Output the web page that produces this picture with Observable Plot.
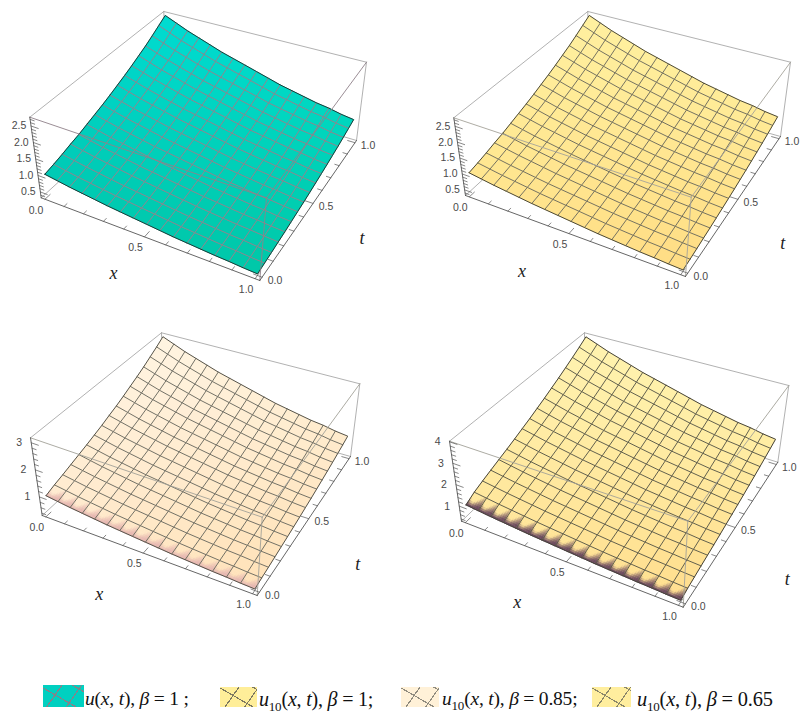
<!DOCTYPE html>
<html><head><meta charset="utf-8">
<script src="https://cdn.jsdelivr.net/npm/d3@7"></script>
<script src="https://cdn.jsdelivr.net/npm/@observablehq/plot@0.6"></script>
<style>
html,body{margin:0;padding:0;background:#fff}
#wrap{position:relative;width:811px;height:721px;overflow:hidden}
.sw{position:absolute;border:0;box-sizing:border-box}
.lg{position:absolute;top:688px;font:19.5px "Liberation Serif",serif;color:#111;white-space:nowrap;letter-spacing:-.2px}
.lg sub{font-size:13px;line-height:0}
</style></head><body><div id="wrap"></div>
<script>
// Surface values: u(x,t) at the 17 mesh positions = profileX[i] * profileT_*[j]
const profileX = [1,.94,.88,.83,.78,.73,.69,.65,.61,.57,.53,.50,.47,.44,.42,.39,.37];
const profileT_100 = [1,1.06,1.13,1.21,1.28,1.37,1.46,1.55,1.65,1.76,1.87,1.99,2.12,2.25,2.40,2.56,2.72];
const profileT_085 = [1,1.11,1.20,1.30,1.40,1.50,1.61,1.72,1.85,1.97,2.11,2.26,2.41,2.57,2.75,2.93,3.13];
const profileT_065 = [1,1.21,1.36,1.50,1.64,1.78,1.93,2.09,2.25,2.43,2.61,2.81,3.01,3.23,3.46,3.70,3.96];
const xTicks = [0,.5,1];
const tTicks = [0,.5,1];
const zTicks_25 = [.5,1,1.5,2,2.5];
const zTicks_3 = [1,2,3];
const zTicks_4 = [1,2,3,4];
const fmt1 = d3.format(".1f");

const panels = [
 {profile:profileT_100, zTicks:zTicks_25, zFmt:fmt1, zMinor:.1,
  A:[40.7,197.3],B:[259.3,280],C:[29.3,116.7],D:[266,197.3],E:[366,61.7],F:[163.3,11],G:[356,140],H:[165.7,83.3],
  c00:"#00c9b4",c10:"#00c8a8",c01:"#00dcd2",c11:"#00d6be",mesh:"#93808a",edge:"#1a3a36",front:"#8f8089",fr:null,
  xl:[-31,36],tl:[49,35]},
 {profile:profileT_100, zTicks:zTicks_25, zFmt:fmt1, zMinor:.1,
  A:[465,195],B:[685,276],C:[453.3,117.3],D:[690.7,196.7],E:[790,61.7],F:[587.3,11],G:[780,136],H:[588.3,81.7],
  c00:"#ffe68f",c10:"#ffdd84",c01:"#fff0a0",c11:"#ffea96",mesh:"#6e6c5c",edge:"#4a4838",front:"#a5a39a",fr:null,
  xl:[-47,38],tl:[45,44]},
 {profile:profileT_085, zTicks:zTicks_3, zFmt:d3.format("d"), zMinor:.2,
  A:[41.7,515],B:[256.7,595],C:[30,437.3],D:[261.7,516.7],E:[359.3,383.3],F:[161,332.3],G:[350,456],H:[163.3,402.7],
  c00:"#ffebd0",c10:"#ffe2b8",c01:"#fff4e2",c11:"#ffebcc",mesh:"#6c6a60",edge:"#55534a",front:"#a3a199",fr:"#e6b7b0",
  xl:[-44,41],tl:[49,46]},
 {profile:profileT_065, zTicks:zTicks_4, zFmt:d3.format("d"), zMinor:.2,
  A:[461,520.7],B:[682.7,606.7],C:[449,440.7],D:[687.3,520.7],E:[788.3,385],F:[584,332.3],G:[777.3,461.7],H:[584,402.3],
  c00:"#ffe79c",c10:"#ffde8e",c01:"#fff3b0",c11:"#ffeda4",mesh:"#5a5848",edge:"#44423a",front:"#a3a199",fr:"#6b4a5c",
  xl:[-49,40],tl:[52,52]}
];

function homography(p0,p1,p2,p3){
  const [x0,y0]=p0,[x1,y1]=p1,[x2,y2]=p2,[x3,y3]=p3;
  const dx1=x1-x2,dx2=x3-x2,sx=x0-x1+x2-x3,dy1=y1-y2,dy2=y3-y2,sy=y0-y1+y2-y3;
  const den=dx1*dy2-dx2*dy1, g=(sx*dy2-dx2*sy)/den, h=(dx1*sy-sx*dy1)/den;
  const a=x1-x0+g*x1,b=x3-x0+h*x3,d=y1-y0+g*y1,e=y3-y0+h*y3;
  return (u,v)=>{const w=g*u+h*v+1;return [(a*u+b*v+x0)/w,(d*u+e*v+y0)/w];};
}
const PAD=1/52;
const inset=v=>PAD+v*(1-2*PAD);

const cells=[],mesh=[],edges=[],back=[],front=[],axisLines=[],ticks=[],xLabels=[],tLabels=[],zLabels=[],names=[];
let id=0;
const pushPoly=(arr,pts,extra)=>{const k=id++;for(const [x,y] of pts)arr.push({x,y,k,...extra});};

panels.forEach((p)=>{
  const H0=homography(p.A,p.B,p.G,p.H),H1=homography(p.C,p.D,p.E,p.F);
  const us=[]; for(const a of p.profile) for(const b of profileX) us.push(a*b);
  const lo=d3.min(us),hi=d3.max(us),pd=(hi-lo)*.02,zLo=lo-pd,zHi=hi+pd;
  const box=(bx,bt,bz)=>{const a=H0(bx,bt),b=H1(bx,bt);return [a[0]+(b[0]-a[0])*bz,a[1]+(b[1]-a[1])*bz];};
  const bzOf=u=>(u-zLo)/(zHi-zLo);
  const nodeVal=(i,j)=>profileX[i]*p.profile[j];
  const at=(i,j)=>box(inset(i/16),inset(j/16),bzOf(nodeVal(i,j)));
  const col=(i,j)=>{const s=i/16,r=j/16;
    return d3.interpolateRgb(d3.interpolateRgb(p.c00,p.c10)(s),d3.interpolateRgb(p.c01,p.c11)(s))(r);};

  for(const [a,b] of [[p.F,p.C],[p.F,p.E],[p.F,p.H],[p.H,p.A],[p.H,p.G],[p.E,p.G]])
    pushPoly(back,[a,b],{});
  for(let j=0;j<16;j++)for(let i=0;i<16;i++){
    const c=col(i+.5,j+.5);
    if(p.fr&&j===0)continue;
    pushPoly(cells,[at(i,j),at(i+1,j),at(i+1,j+1),at(i,j+1),at(i,j)],{c});
  }
  // first strip with the shading fringe along t = 0
  if(p.fr){
    const N=7;
    for(let i=0;i<16;i++)for(let a=0;a<N;a++)for(let b=0;b<N;b++){
      const s0=a/N,s1=(a+1)/N,r0=b/N,r1=(b+1)/N;
      const q=(s,r)=>{const p00=at(i,0),p10=at(i+1,0),p01=at(i,1),p11=at(i+1,1);
        const f=(o)=>(p00[o]*(1-s)+p10[o]*s)*(1-r)+(p01[o]*(1-s)+p11[o]*s)*r;return [f(0),f(1)];};
      const sm=(s0+s1)/2,rm=(r0+r1)/2;
      const reach=.38+.56*Math.abs(2*sm-.62)**1.4;
      const dark=Math.max(0,1-rm/reach);
      const c=d3.interpolateRgb(col(i+sm,rm),p.fr)(Math.min(1,dark*1.25));
      pushPoly(cells,[q(s0,r0),q(s1,r0),q(s1,r1),q(s0,r1),q(s0,r0)],{c});
    }
  }
  for(let j=1;j<16;j++)pushPoly(mesh,d3.range(17).map(i=>at(i,j)),{c:p.mesh});
  for(let i=1;i<16;i++)pushPoly(mesh,d3.range(17).map(j=>at(i,j)),{c:p.mesh});
  pushPoly(edges,[...d3.range(17).map(i=>at(i,0)),...d3.range(17).map(j=>at(16,j)),...d3.range(16,-1,-1).map(i=>at(i,16)),...d3.range(16,-1,-1).map(j=>at(0,j))],{c:p.edge});
  for(const [a,b] of [[p.C,p.D],[p.D,p.E],[p.D,p.B]])pushPoly(front,[a,b],{c:p.front});
  for(const [a,b] of [[p.A,p.B],[p.B,p.G],[p.A,p.C]])pushPoly(axisLines,[a,b],{});
  for(let k=0;k<=10;k++){
    const v=k/10,major=k%5===0,len=major?.035:.02;
    pushPoly(ticks,[box(inset(v),0,0),box(inset(v),len,0)],{});
    pushPoly(ticks,[box(1,inset(v),0),box(1-len,inset(v),0)],{});
  }
  for(let v=Math.ceil(zLo/p.zMinor)*p.zMinor;v<=zHi;v+=p.zMinor){
    const isMaj=p.zTicks.some(t=>Math.abs(t-v)<1e-6),len=isMaj?.035:.02,bz=bzOf(v);
    pushPoly(ticks,[box(0,0,bz),box(len,0,bz)],{});
  }
  for(const v of xTicks){const [x,y]=box(inset(v),0,0);xLabels.push({x,y,s:fmt1(v)});}
  for(const v of tTicks){const [x,y]=box(1,inset(v),0);tLabels.push({x,y,s:fmt1(v)});}
  for(const v of p.zTicks){const [x,y]=box(0,0,bzOf(v));zLabels.push({x,y,s:p.zFmt(v)});}
  let [x,y]=box(inset(.5),0,0);names.push({x,y,s:"x",dx:p.xl[0],dy:p.xl[1]});
  [x,y]=box(1,inset(.5),0);names.push({x,y,s:"t",dx:p.tl[0],dy:p.tl[1]});
});

const pos={x:"x",y:"y",z:"k",curve:"linear"};
const tickText={x:"x",y:"y",text:"s",fontFamily:"Liberation Sans",fontSize:10.5,fill:"#4a4a4a"};
const chart=Plot.plot({
  width:811,height:670,margin:0,
  x:{domain:[0,811],range:[0,811],axis:null},
  y:{domain:[0,670],range:[0,670],axis:null},
  color:{type:"identity"},
  marks:[
    Plot.line(back,{...pos,stroke:"#a8a8a8",strokeWidth:.9}),
    Plot.line(cells,{...pos,fill:"c",stroke:"c",strokeWidth:.6}),
    Plot.line(mesh,{...pos,stroke:"c",strokeWidth:.95}),
    Plot.line(edges,{...pos,stroke:"c",strokeWidth:1}),
    Plot.line(front,{...pos,stroke:"c",strokeWidth:.9}),
    Plot.line(axisLines,{...pos,stroke:"#555",strokeWidth:.9}),
    Plot.line(ticks,{...pos,stroke:"#555",strokeWidth:.7}),
    Plot.text(xLabels,{...tickText,dx:-9,dy:11}),
    Plot.text(tLabels,{...tickText,dx:13,dy:3}),
    Plot.text(zLabels,{...tickText,dx:-12,dy:0}),
    ...names.map(d=>Plot.text([d],{x:"x",y:"y",text:"s",dx:d.dx,dy:d.dy,fontFamily:"Liberation Serif",fontStyle:"italic",fontSize:18,fill:"#1c1c1c"}))
  ]
});
const wrap=document.getElementById("wrap");
wrap.appendChild(chart);

// Legend
const hatch=(bg,line)=>`background-color:${bg};background-image:repeating-linear-gradient(30deg,transparent 0 16px,${line} 16px 17.1px),repeating-linear-gradient(125deg,transparent 0 15px,${line} 15px 16.1px);`;
const legend=[
 {sx:43,sw:41,sy:685,sh:22,bg:"#00d0c0",line:"#8b7f88",tx:85,fs:19.5,html:'<i>u</i>(<i>x</i>, <i>t</i>), <i>β</i> = 1 ;'},
 {sx:220,sw:37,sy:687,sh:20,bg:"#ffee99",line:"#7c7860",tx:259,fs:20,html:'<i>u</i><sub>10</sub>(<i>x</i>, <i>t</i>), <i>β</i> = 1;'},
 {sx:401,sw:38,sy:687,sh:20,bg:"#fff1d8",line:"#8f8b7f",tx:442,fs:19.5,html:'<i>u</i><sub>10</sub>(<i>x</i>, <i>t</i>), <i>β</i> = 0.85;'},
 {sx:592,sw:39,sy:687,sh:20,bg:"#ffee9e",line:"#8a866a",tx:637,fs:20.4,html:'<i>u</i><sub>10</sub>(<i>x</i>, <i>t</i>), <i>β</i> = 0.65'}
];
for(const l of legend){
  const s=document.createElement("div");s.className="sw";
  s.style.cssText=`left:${l.sx}px;top:${l.sy}px;width:${l.sw}px;height:${l.sh}px;${hatch(l.bg,l.line)}`;
  wrap.appendChild(s);
  const t=document.createElement("div");t.className="lg";t.style.left=l.tx+"px";t.style.fontSize=l.fs+"px";t.innerHTML=l.html;
  wrap.appendChild(t);
}
</script></body></html>
